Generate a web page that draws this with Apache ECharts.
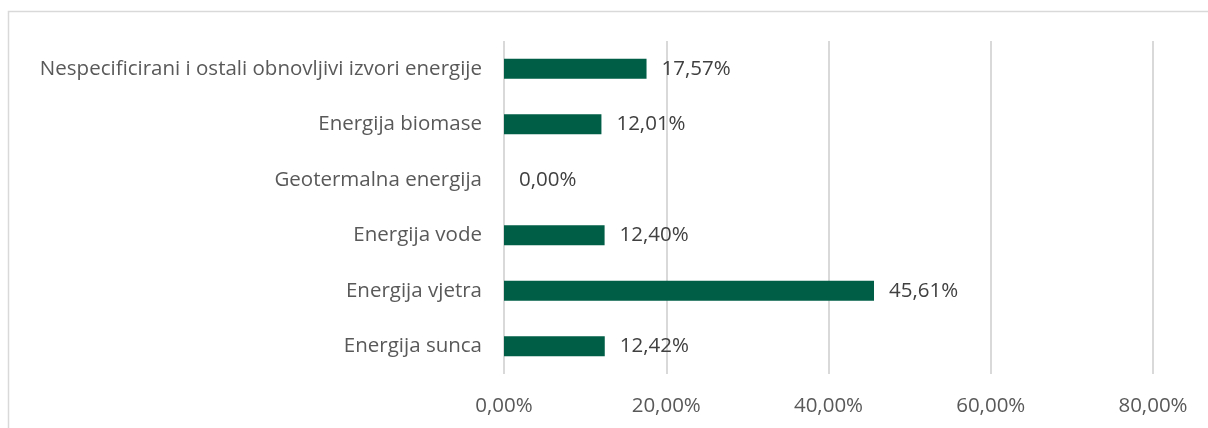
<!DOCTYPE html>
<html>
<head>
<meta charset="utf-8">
<script src="https://cdn.jsdelivr.net/npm/echarts@6/dist/echarts.min.js"></script>
<style>
html,body{margin:0;padding:0;background:#fff;}
#oneChart{width:1208px;height:428px;}
</style>
</head>
<body>
<div id="oneChart"></div>
<script>
var categories = ['Energija sunca','Energija vjetra','Energija vode','Geotermalna energija','Energija biomase','Nespecificirani i ostali obnovljivi izvori energije'];
var values = [12.42, 45.61, 12.40, 0.00, 12.01, 17.57];
var xTicks = [0, 20, 40, 60, 80];

function pct(v){ return v.toFixed(2).replace('.', ',') + '%'; }

var charts1 = echarts.init(document.getElementById('oneChart'));
var option = {
    animation: false,
    textStyle: { fontFamily: 'Open Sans' },
    graphic: [{
        type: 'rect',
        shape: { x: 8.5, y: 11.5, width: 1400, height: 600 },
        style: { fill: 'none', stroke: '#d9d9d9', lineWidth: 1.5 },
        silent: true
    }],
    grid: { left: 504, right: 55, top: 41, bottom: 54, containLabel: false },
    xAxis: {
        type: 'value',
        min: xTicks[0],
        max: xTicks[xTicks.length - 1],
        interval: 20,
        axisLine: { show: false },
        axisTick: { show: false },
        splitLine: { lineStyle: { color: '#d9d9d9', width: 2 } },
        axisLabel: {
            color: '#595959', fontSize: 20.5, margin: 22,
            formatter: function (v) { return pct(v); }
        }
    },
    yAxis: {
        type: 'category',
        data: categories,
        axisLine: { show: false },
        axisTick: { show: false },
        axisLabel: { color: '#595959', fontSize: 20.5, margin: 22 }
    },
    series: [{
        type: 'bar',
        data: values,
        barWidth: 20,
        itemStyle: { color: '#005e46' },
        label: {
            show: true,
            position: 'right',
            distance: 15,
            color: '#404040',
            fontSize: 20.5,
            formatter: function (p) { return pct(p.value); }
        }
    }]
};
charts1.setOption(option);
</script>
</body>
</html>
